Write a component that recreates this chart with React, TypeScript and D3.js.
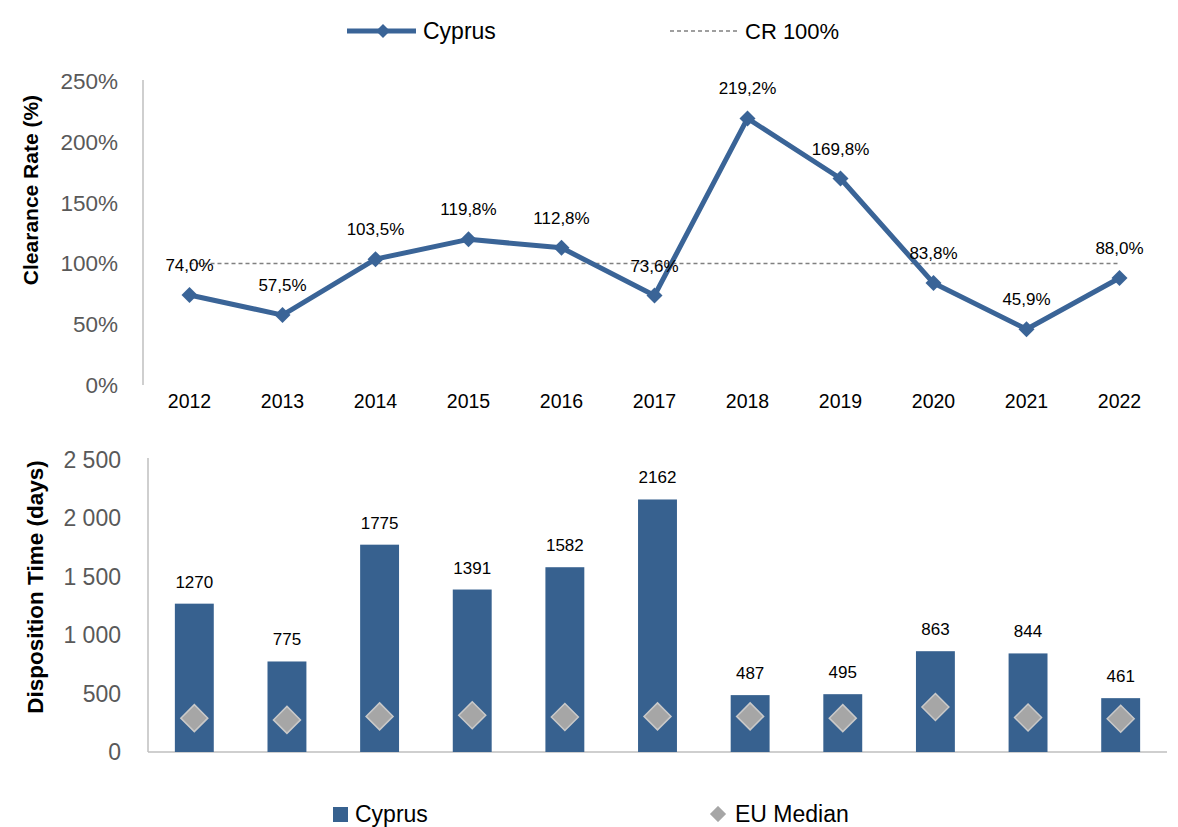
import React from 'react';
import * as d3 from 'd3';

const years = ['2012', '2013', '2014', '2015', '2016', '2017', '2018', '2019', '2020', '2021', '2022'];
const clearanceRate = [74.0, 57.5, 103.5, 119.8, 112.8, 73.6, 219.2, 169.8, 83.8, 45.9, 88.0];
const crTarget = 100;
const dispositionTime = [1270, 775, 1775, 1391, 1582, 2162, 487, 495, 863, 844, 461];
const euMedian = [290, 275, 305, 315, 300, 305, 305, 290, 385, 295, 285];
const rateTicks = [0, 50, 100, 150, 200, 250];
const timeTicks = [0, 500, 1000, 1500, 2000, 2500];

const W = 1178;
const H = 827;
const FONT = '"Liberation Sans", Arial, sans-serif';
const LINE = '#3a6497';
const BAR = '#37618f';
const AXIS = '#bfbfbf';
const TICK = '#595959';

const fmtPct = (v: number) => v.toFixed(1).replace('.', ',') + '%';
const fmtSpace = (v: number) => d3.format(',')(v).replace(/,/g, ' ');

const diamond = (cx: number, cy: number, r: number) =>
  `M${cx},${cy - r}L${cx + r},${cy}L${cx},${cy + r}L${cx - r},${cy}Z`;

export default function App() {
  // top chart: clearance rate
  const x1 = d3.scaleBand<string>().domain(years).range([143, 1166]);
  const y1 = d3.scaleLinear().domain([0, 250]).range([385, 81]);
  const cx1 = (d: string) => (x1(d) ?? 0) + x1.bandwidth() / 2;
  const line = d3
    .line<number>()
    .x((_, i) => cx1(years[i]))
    .y((d) => y1(d));

  // bottom chart: disposition time
  const x2 = d3.scaleBand<string>().domain(years).range([148, 1167]).paddingInner(0.58).paddingOuter(0.29);
  const y2 = d3.scaleLinear().domain([0, 2500]).range([752, 460]);
  const cx2 = (d: string) => (x2(d) ?? 0) + x2.bandwidth() / 2;

  return (
    <>
      <style>{`body{margin:0}`}</style>
      <svg width={W} height={H} style={{ display: 'block', background: '#fff' }} fontFamily={FONT}>
        {/* top legend */}
        <g>
          <line x1={347} x2={416} y1={31} y2={31} stroke={LINE} strokeWidth={5} />
          <path d={diamond(383, 31, 7)} fill={LINE} />
          <text x={423} y={39} fontSize={23} fill="#000">Cyprus</text>
          <line x1={670} x2={738} y1={31} y2={31} stroke="#808080" strokeWidth={1.5} strokeDasharray="4,3" />
          <text x={745} y={39} fontSize={22} fill="#000">CR 100%</text>
        </g>

        {/* top axes */}
        <line x1={143} x2={143} y1={80} y2={385} stroke={AXIS} strokeWidth={1.5} />
        {rateTicks.map((t) => (
          <text key={t} x={118} y={y1(t) + 8} fontSize={22.5} fill={TICK} textAnchor="end">
            {t}%
          </text>
        ))}
        {years.map((yr) => (
          <text key={yr} x={cx1(yr)} y={408} fontSize={19.5} fill="#000" textAnchor="middle">
            {yr}
          </text>
        ))}
        <text
          transform={`translate(38,190) rotate(-90)`}
          fontSize={21}
          fontWeight="bold"
          textAnchor="middle"
          fill="#000"
        >
          Clearance Rate (%)
        </text>

        {/* CR 100% reference */}
        <line
          x1={cx1(years[0])}
          x2={cx1(years[years.length - 1])}
          y1={y1(crTarget)}
          y2={y1(crTarget)}
          stroke="#808080"
          strokeWidth={1.5}
          strokeDasharray="4,3"
        />

        {/* clearance line */}
        <path d={line(clearanceRate) ?? ''} fill="none" stroke={LINE} strokeWidth={5} strokeLinejoin="round" />
        {clearanceRate.map((v, i) => (
          <path key={i} d={diamond(cx1(years[i]), y1(v), 8)} fill={LINE} />
        ))}
        {clearanceRate.map((v, i) => (
          <text key={i} x={cx1(years[i])} y={y1(v) - 24} fontSize={17} fill="#000" textAnchor="middle">
            {fmtPct(v)}
          </text>
        ))}

        {/* bottom axes */}
        <line x1={148} x2={148} y1={458} y2={752} stroke={AXIS} strokeWidth={1.5} />
        <line x1={148} x2={1167} y1={752} y2={752} stroke={AXIS} strokeWidth={1.5} />
        {timeTicks.map((t) => (
          <text key={t} x={121} y={y2(t) + 8} fontSize={23} fill={TICK} textAnchor="end">
            {fmtSpace(t)}
          </text>
        ))}
        <text
          transform={`translate(43,587) rotate(-90)`}
          fontSize={22.5}
          fontWeight="bold"
          textAnchor="middle"
          fill="#000"
        >
          Disposition Time (days)
        </text>

        {/* bars */}
        {dispositionTime.map((v, i) => (
          <rect
            key={i}
            x={x2(years[i])}
            y={y2(v)}
            width={x2.bandwidth()}
            height={y2(0) - y2(v)}
            fill={BAR}
          />
        ))}
        {dispositionTime.map((v, i) => (
          <text key={i} x={cx2(years[i])} y={y2(v) - 16} fontSize={17} fill="#000" textAnchor="middle">
            {v}
          </text>
        ))}
        {euMedian.map((v, i) => (
          <path
            key={i}
            d={diamond(cx2(years[i]), y2(v), 13.5)}
            fill="#a6a6a6"
            stroke="#c9c9c9"
            strokeWidth={1.5}
          />
        ))}

        {/* bottom legend */}
        <rect x={333} y={807} width={15} height={15} fill={BAR} />
        <text x={355} y={822} fontSize={23} fill="#000">Cyprus</text>
        <path d={diamond(718, 814, 8)} fill="#a6a6a6" stroke="#c9c9c9" strokeWidth={1} />
        <text x={735} y={822} fontSize={23} fill="#000">EU Median</text>
      </svg>
    </>
  );
}
